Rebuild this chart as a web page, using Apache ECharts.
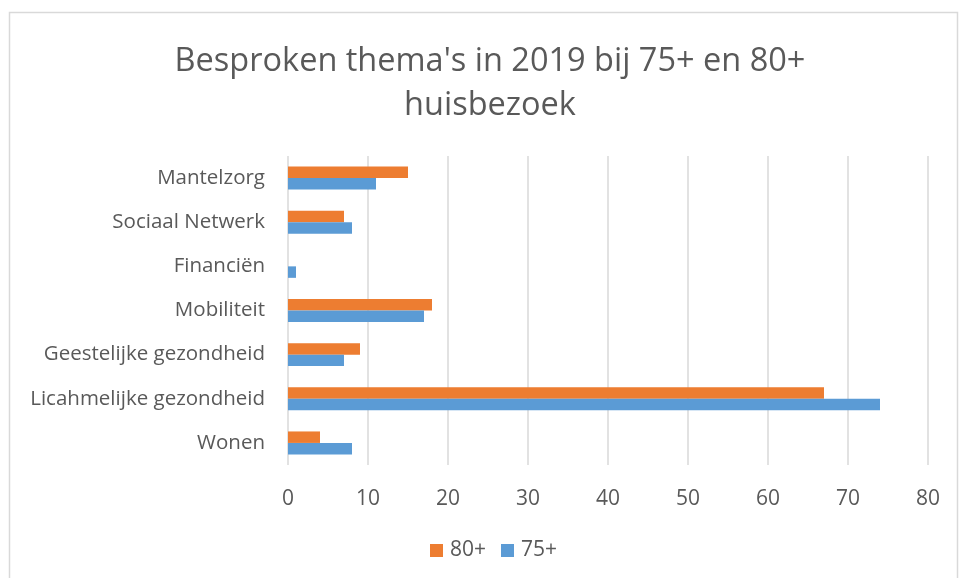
<!DOCTYPE html>
<html>
<head>
    <meta charset="utf-8">
    <script type="text/javascript" src="https://cdn.jsdelivr.net/npm/echarts@6/dist/echarts.min.js"></script>
</head>
<body style="margin:0;background:#fff;">
<div id="main" style="width:959px;height:578px;"></div>
<script type="text/javascript">
    // categories van onder naar boven (as loopt omhoog)
    var themas = ['Wonen', 'Licahmelijke gezondheid', 'Geestelijke gezondheid', 'Mobiliteit', 'Financiën', 'Sociaal Netwerk', 'Mantelzorg'];
    var waarden80 = [4, 67, 9, 18, 0, 7, 15];
    var waarden75 = [8, 74, 7, 17, 1, 8, 11];
    var xTicks = [0, 10, 20, 30, 40, 50, 60, 70, 80];

    var font = 'Open Sans';
    var grijs = '#595959';
    var myChart = echarts.init(document.getElementById('main'));
    var option = {
        backgroundColor: '#fff',
        textStyle: { fontFamily: font },
        graphic: [{
            type: 'rect',
            shape: { x: 9.5, y: 12.5, width: 948, height: 600 },
            style: { fill: 'none', stroke: '#d9d9d9', lineWidth: 1.5 },
            silent: true
        }],
        title: {
            text: "Besproken thema's in 2019 bij 75+ en 80+\nhuisbezoek",
            left: 485,
            textAlign: 'center',
            top: 35,
            textStyle: { fontFamily: font, fontSize: 32.5, fontWeight: 'normal', color: grijs, lineHeight: 44 }
        },
        legend: {
            data: ['80+', '75+'],
            bottom: 12,
            left: 425,
            itemWidth: 13,
            itemHeight: 13,
            itemGap: 15,
            icon: 'rect',
            textStyle: { fontFamily: font, fontSize: 21, color: grijs, padding: [0, 0, 0, 2] }
        },
        grid: { left: 288, right: 31, top: 156, bottom: 113, containLabel: false },
        xAxis: {
            type: 'value',
            min: xTicks[0],
            max: xTicks[xTicks.length - 1],
            interval: 10,
            axisLine: { show: false },
            axisTick: { show: false },
            axisLabel: { fontFamily: font, fontSize: 21, color: grijs, margin: 24 },
            splitLine: { lineStyle: { color: '#d9d9d9', width: 1.5 } }
        },
        yAxis: {
            type: 'category',
            data: themas,
            axisLine: { show: false },
            axisTick: { show: false },
            axisLabel: { fontFamily: font, fontSize: 20.5, color: grijs, margin: 23 }
        },
        series: [
            {
                name: '80+',
                type: 'bar',
                data: waarden80,
                itemStyle: { color: '#ED7D31' },
                barGap: '0%',
                barCategoryGap: '48%'
            },
            {
                name: '75+',
                type: 'bar',
                data: waarden75,
                itemStyle: { color: '#5B9BD5' },
                barGap: '0%',
                barCategoryGap: '48%'
            }
        ]
    };
    myChart.setOption(option);
</script>
</body>
</html>
